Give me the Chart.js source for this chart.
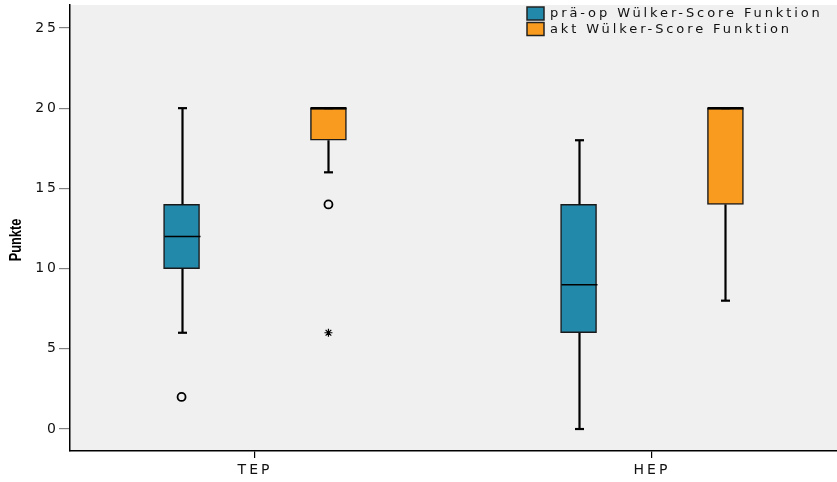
<!DOCTYPE html>
<html>
<head>
<meta charset="utf-8">
<script src="https://cdn.jsdelivr.net/npm/chart.js@4/dist/chart.umd.min.js"></script>
<style>
  html, body { margin: 0; padding: 0; background: #ffffff; }
  #wrap { width: 837px; height: 482px; }
</style>
</head>
<body>
<div id="wrap"><canvas id="c" width="837" height="482"></canvas></div>
<script>
// Groups on the x axis
const categories = ['TEP', 'HEP'];
const yTicks = [0, 5, 10, 15, 20, 25];

// prä-op Wülker-Score Funktion: box statistics per group
const preMin    = [6, 0];
const preQ1     = [10, 6];
const preMedian = [12, 9];
const preQ3     = [14, 14];
const preMax    = [20, 18];
const preOutliers = [[2], []];     // circles
const preExtremes = [[], []];      // stars

// akt Wülker-Score Funktion: box statistics per group
const aktMin    = [16, 8];
const aktQ1     = [18, 14];
const aktMedian = [20, 20];
const aktQ3     = [20, 20];
const aktMax    = [20, 20];
const aktOutliers = [[14], []];
const aktExtremes = [[6], []];

const seriesNames = ['prä-op Wülker-Score Funktion', 'akt Wülker-Score Funktion'];
const seriesColors = ['#2389ab', '#f99b1f'];

// Horizontal shift of each series' box away from the group centre (axis units)
const SHIFT = 0.185;
const offsets = [-SHIFT, SHIFT];

function boxData(q1, q3, k) {
  return categories.map((c, i) => ({ x: i + 1 + offsets[k], y: [q1[i], q3[i]] }));
}
function pointData(list, k) {
  const out = [];
  list.forEach((vals, i) => vals.forEach(v => out.push({ x: i + 1 + offsets[k], y: v })));
  return out;
}

const stats = [
  { min: preMin, q1: preQ1, med: preMedian, q3: preQ3, max: preMax },
  { min: aktMin, q1: aktQ1, med: aktMedian, q3: aktQ3, max: aktMax }
];

const FONT = 'DejaVu Sans';
const SPACING = '3px';

// Plot background, whiskers, medians, legend and y title
const boxPlotPlugin = {
  id: 'boxPlot',
  beforeLayout(chart) { chart.ctx.letterSpacing = SPACING; },
  beforeDraw(chart) {
    const { ctx, chartArea: a } = chart;
    ctx.save();
    ctx.fillStyle = '#f0f0f0';
    ctx.fillRect(a.left, a.top, a.right - a.left, a.bottom - a.top);
    ctx.restore();
    ctx.letterSpacing = SPACING;
  },
  afterDatasetsDraw(chart) {
    const { ctx } = chart;
    const xs = chart.scales.x, ys = chart.scales.y;
    ctx.save();
    ctx.letterSpacing = '0px';
    stats.forEach((s, k) => {
      categories.forEach((c, i) => {
        const x = Math.round(xs.getPixelForValue(i + 1 + offsets[k])) + 0.5;
        const half = 18;
        const cap = 4.5;
        ctx.strokeStyle = '#000';
        ctx.lineWidth = 2.2;
        // upper whisker
        if (s.max[i] > s.q3[i]) {
          ctx.beginPath();
          ctx.moveTo(x, ys.getPixelForValue(s.q3[i]));
          ctx.lineTo(x, ys.getPixelForValue(s.max[i]));
          ctx.stroke();
        }
        ctx.beginPath();
        ctx.moveTo(x - cap, ys.getPixelForValue(s.max[i]));
        ctx.lineTo(x + cap, ys.getPixelForValue(s.max[i]));
        ctx.stroke();
        // lower whisker
        if (s.min[i] < s.q1[i]) {
          ctx.beginPath();
          ctx.moveTo(x, ys.getPixelForValue(s.q1[i]));
          ctx.lineTo(x, ys.getPixelForValue(s.min[i]));
          ctx.stroke();
        }
        ctx.beginPath();
        ctx.moveTo(x - cap, ys.getPixelForValue(s.min[i]));
        ctx.lineTo(x + cap, ys.getPixelForValue(s.min[i]));
        ctx.stroke();
        // median
        const my = ys.getPixelForValue(s.med[i]);
        ctx.lineWidth = (s.med[i] === s.q3[i] || s.med[i] === s.q1[i]) ? 2.5 : 1.5;
        ctx.beginPath();
        ctx.moveTo(x - half, my);
        ctx.lineTo(x + half, my);
        ctx.stroke();
      });
    });
    ctx.restore();
  },
  afterDraw(chart) {
    const { ctx } = chart;
    ctx.save();
    // legend
    ctx.font = '13px ' + FONT;
    ctx.letterSpacing = '2.9px';
    ctx.textBaseline = 'middle';
    ctx.textAlign = 'left';
    seriesNames.forEach((name, k) => {
      const top = 7 + k * 15.5;
      ctx.fillStyle = seriesColors[k];
      ctx.fillRect(527, top, 17, 13);
      ctx.strokeStyle = '#222';
      ctx.lineWidth = 1.5;
      ctx.strokeRect(527, top, 17, 13);
      ctx.fillStyle = '#111';
      ctx.fillText(name, 550, top + 7);
    });
    // y axis title
    ctx.letterSpacing = '0px';
    ctx.translate(17, 240);
    ctx.rotate(-Math.PI / 2);
    ctx.scale(0.8, 1);
    ctx.font = 'bold 16px "Liberation Sans"';
    ctx.textAlign = 'center';
    ctx.fillStyle = '#000';
    ctx.fillText('Punkte', 0, 0);
    ctx.restore();
  }
};

const boxStyle = (k) => ({
  backgroundColor: seriesColors[k],
  borderColor: '#1a1a1a',
  borderWidth: 1.5,
  borderSkipped: false,
  barThickness: 36,
  grouped: false
});

new Chart(document.getElementById('c'), {
  type: 'bar',
  data: {
    datasets: [
      Object.assign({ label: seriesNames[0], data: boxData(preQ1, preQ3, 0), order: 2 }, boxStyle(0)),
      Object.assign({ label: seriesNames[1], data: boxData(aktQ1, aktQ3, 1), order: 2 }, boxStyle(1)),
      { type: 'scatter', label: 'pre outliers', data: pointData(preOutliers, 0), pointStyle: 'circle',
        pointRadius: 4, borderColor: '#000', backgroundColor: 'rgba(0,0,0,0)', borderWidth: 1.8, order: 1 },
      { type: 'scatter', label: 'akt outliers', data: pointData(aktOutliers, 1), pointStyle: 'circle',
        pointRadius: 4, borderColor: '#000', backgroundColor: 'rgba(0,0,0,0)', borderWidth: 1.8, order: 1 },
      { type: 'scatter', label: 'pre extremes', data: pointData(preExtremes, 0), pointStyle: 'star',
        pointRadius: 4, borderColor: '#000', borderWidth: 1.2, order: 1 },
      { type: 'scatter', label: 'akt extremes', data: pointData(aktExtremes, 1), pointStyle: 'star',
        pointRadius: 4, borderColor: '#000', borderWidth: 1.2, order: 1 }
    ]
  },
  options: {
    responsive: false,
    animation: false,
    layout: { autoPadding: false, padding: { top: 5, right: 0, left: 0, bottom: 0 } },
    plugins: { legend: { display: false }, tooltip: { enabled: false } },
    scales: {
      x: {
        type: 'linear',
        offset: false,
        min: 0.534,
        max: 2.466,
        afterBuildTicks(scale) { scale.ticks = categories.map((c, i) => ({ value: i + 1 })); },
        afterFit(scale) { scale.height = 31; scale.paddingLeft = 0; scale.paddingRight = 0; },
        ticks: {
          callback: (v) => categories[v - 1] || '',
          color: '#111',
          font: { family: FONT, size: 14 },
          padding: 4,
          maxRotation: 0,
          autoSkip: false
        },
        grid: { offset: false, drawOnChartArea: false, drawTicks: true, tickLength: 7, color: '#000', lineWidth: 1.2 },
        border: { display: true, color: '#000', width: 1.5 }
      },
      y: {
        type: 'linear',
        min: -1.37,
        max: 26.43,
        afterBuildTicks(scale) { scale.ticks = yTicks.map(v => ({ value: v })); },
        afterFit(scale) { scale.width = 70; scale.paddingTop = 0; scale.paddingBottom = 0; },
        ticks: {
          color: '#111',
          font: { family: FONT, size: 14 },
          padding: 0
        },
        grid: { drawOnChartArea: false, drawTicks: true, tickLength: 11, color: '#808080', lineWidth: 1.2 },
        border: { display: true, color: '#000', width: 1.5 }
      }
    }
  },
  plugins: [boxPlotPlugin]
});
</script>
</body>
</html>
